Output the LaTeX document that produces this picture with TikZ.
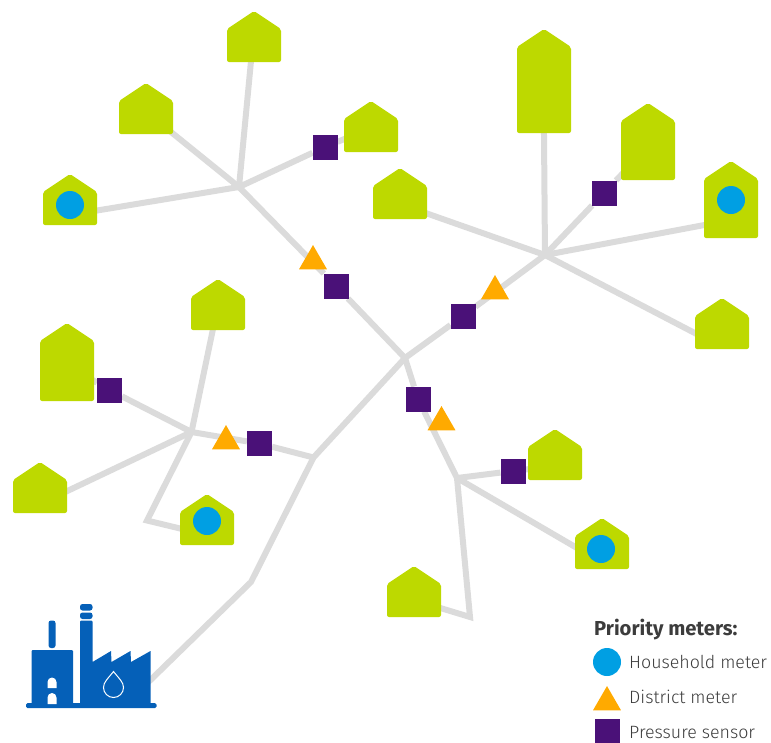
\documentclass[tikz,border=0pt]{standalone}
\usepackage{fontspec}
\setmainfont{Fira Sans}
\newfontfamily\lightfont{Fira Sans Light}
\usetikzlibrary{shapes.geometric,backgrounds}
\definecolor{pipegray}{HTML}{DBDBDB}
\definecolor{housegreen}{HTML}{BDD900}
\definecolor{meterblue}{HTML}{009FE3}
\definecolor{meterorange}{HTML}{FFAA00}
\definecolor{sensorpurple}{HTML}{4A1178}
\definecolor{factoryblue}{HTML}{0560B8}
\definecolor{legendtext}{HTML}{3C3C3C}
\tikzset{
  pipe/.style={draw=pipegray,line width=6pt,line join=miter},
  housebody/.style={fill=housegreen,rounded corners=2pt},
  housebox/.style={inner sep=0pt,outer sep=0pt,minimum width=54pt},
  householdmeter/.style={circle,fill=meterblue,inner sep=0pt,minimum size=28pt},
  districtmeter/.style={regular polygon,regular polygon sides=3,fill=meterorange,inner sep=0pt,outer sep=0pt,minimum size=32.3pt},
  pressuresensor/.style={rectangle,fill=sensorpurple,inner sep=0pt,outer sep=0pt,minimum size=25pt},
  factorypart/.style={fill=factoryblue},
  legendlabel/.style={anchor=west,inner sep=0pt,text=legendtext,font=\lightfont\fontsize{17.8}{20}\selectfont},
  legendtitle/.style={anchor=west,inner sep=0pt,text=legendtext,font=\bfseries\fontsize{20.2}{22}\selectfont}
}
% name, centre x, apex y, bottom y
\newcommand{\drawhouse}[4]{%
  \fill[housebody] ({#2-27},{#3+17}) -- (#2,{#3-1}) -- ({#2+27},{#3+17}) -- ({#2+27},#4) -- ({#2-27},#4) -- cycle;
  \path ({#2-27},#3) rectangle ({#2+27},#4) coordinate[midway] (#1c);
  \node[housebox,minimum height={(#4-#3)*1pt}] (#1) at (#1c) {};
}
\begin{document}
\begin{tikzpicture}[x=1pt,y=-1pt]
\useasboundingbox (0,0) rectangle (771,742);

% houses
\drawhouse{h1}{254}{12}{62}
\drawhouse{h2}{146}{84}{134}
\drawhouse{h3}{371}{102}{152}
\drawhouse{h4}{70}{175}{225}
\drawhouse{h5}{400}{169}{219}
\drawhouse{h6}{544}{30}{133}
\drawhouse{h7}{648}{104}{180}
\drawhouse{h8}{731}{162}{238}
\drawhouse{h9}{722}{299}{349}
\drawhouse{h10}{218}{280}{330}
\drawhouse{h11}{67}{324}{401}
\drawhouse{h12}{40}{463}{513}
\drawhouse{h13}{207}{495}{545}
\drawhouse{h14}{555}{430}{480}
\drawhouse{h15}{602}{519}{569}
\drawhouse{h16}{414}{567}{617}

% household meters
\node[householdmeter] (m1) at (70,205) {};
\node[householdmeter] (m2) at (731,200) {};
\node[householdmeter] (m3) at (207,521) {};
\node[householdmeter] (m4) at (601,549) {};

% district meters
\node[districtmeter] (d1) at (313,261.2) {};
\node[districtmeter] (d2) at (495,291.2) {};
\node[districtmeter] (d3) at (441.5,422.2) {};
\node[districtmeter] (d4) at (226,441.2) {};

% pressure sensors
\node[pressuresensor] (s1) at (325,147) {};
\node[pressuresensor] (s2) at (336,286) {};
\node[pressuresensor] (s3) at (463,316) {};
\node[pressuresensor] (s4) at (604,193) {};
\node[pressuresensor] (s5) at (418,399) {};
\node[pressuresensor] (s6) at (513,471) {};
\node[pressuresensor] (s7) at (259.5,443.5) {};
\node[pressuresensor] (s8) at (109.5,390) {};

% hubs and bends
\coordinate (A) at (239,187);
\coordinate (B) at (545,255);
\coordinate (C) at (405,358);
\coordinate (D) at (313.5,457.5);
\coordinate (E) at (191.5,432);
\coordinate (F) at (457,478);
\coordinate (G) at (251,582);
\coordinate (bendE) at (147,520.5);
\coordinate (bendF) at (470,617);

% pipe ends inside houses
\coordinate (e1) at (253,40);
\coordinate (e2) at (150,115);
\coordinate (e3) at (371,128);
\coordinate (e4) at (70,215);
\coordinate (e5) at (400,204);
\coordinate (e6) at (543.7,100);
\coordinate (e7) at (648,147);
\coordinate (e8) at (731,220);
\coordinate (e9) at (712,342);
\coordinate (e10) at (218,305);
\coordinate (e11) at (67,365);
\coordinate (e12) at (40,504);
\coordinate (e13) at (207,535);
\coordinate (e14) at (555,466);
\coordinate (e15) at (601,562);
\coordinate (e16) at (414,600);
\coordinate (factoryend) at (130,700);

\begin{scope}[on background layer]
\draw[pipe] (e1) -- (A);
\draw[pipe] (e2) -- (A);
\draw[pipe] (e3) -- (s1) -- (A);
\draw[pipe] (e4) -- (A);
\draw[pipe] (A) -- (s2) -- (C);
\draw[pipe] (C) -- (s3) -- (B);
\draw[pipe] (e5) -- (B);
\draw[pipe] (e6) -- (B);
\draw[pipe] (e7) -- (s4) -- (B);
\draw[pipe] (e8) -- (B);
\draw[pipe] (e9) -- (B);
\draw[pipe] (C) -- (D) -- (s7) -- (E);
\draw[pipe] (D) -- (G) -- (factoryend);
\draw[pipe] (e10) -- (E);
\draw[pipe] (e11) -- (s8) -- (E);
\draw[pipe] (e12) -- (E);
\draw[pipe] (E) -- (bendE) -- (e13);
\draw[pipe] (C) -- (s5) -- (F);
\draw[pipe] (e14) -- (s6) -- (F);
\draw[pipe] (e15) -- (F);
\draw[pipe] (F) -- (bendF) -- (e16);
\end{scope}

% factory
\fill[factorypart,rounded corners=1.5pt] (26,703) rectangle (156.5,708);
\fill[factorypart,rounded corners=1pt] (31.5,705) -- (31.5,650) -- (73,650) -- (73,705) -- cycle;
\fill[factorypart,rounded corners=2.5pt] (48.5,620.5) rectangle (55.5,648);
\fill[factorypart,rounded corners=2.5pt] (80,604) rectangle (92.5,610.5);
\fill[factorypart,rounded corners=2.5pt] (80,612.5) rectangle (92.5,619);
\fill[factorypart] (80,705) -- (80,622) [rounded corners=1pt] -- (80,620.5) -- (92.5,620.5) [sharp corners] -- (92.5,662) -- (111,651) -- (111.5,662) -- (130.5,651) -- (131,662) -- (150.5,651) -- (150.5,705) -- cycle;
\fill[white] (47.5,688) -- (47.5,682) arc[start angle=180,end angle=360,radius=4.5] -- (56.5,688) -- cycle;
\fill[white] (47.5,704) -- (47.5,697.5) arc[start angle=180,end angle=360,radius=4.5] -- (56.5,704) -- cycle;
\draw[white,line width=1pt] (113.5,671.5) .. controls (108,678.5) and (103.5,682) .. (103.5,687.5) arc[start angle=180,end angle=0,radius=10] .. controls (123.5,682) and (119,678.5) .. (113.5,671.5) -- cycle;

% legend
\node[legendtitle] (legtitle) at (594,630) {Priority meters:};
\node[householdmeter] (legm) at (607,662) {};
\node[districtmeter] (legd) at (607,702.2) {};
\node[pressuresensor] (legs) at (607.5,731) {};
\node[legendlabel] (legmt) at (629,662) {Household meter};
\node[legendlabel] (legdt) at (629,697) {District meter};
\node[legendlabel] (legst) at (629,732) {Pressure sensor};
\end{tikzpicture}
\end{document}
